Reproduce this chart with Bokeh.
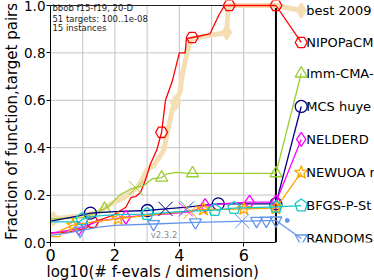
import numpy as np
from bokeh.plotting import figure
from bokeh.models import FixedTicker, PrintfTickFormatter, Range1d, Title
from bokeh.core.properties import value
from bokeh.embed import file_html
from bokeh.resources import INLINE

# ---------------- data ----------------
names = ["best 2009", "NIPOPaCM", "Imm-CMA-", "MCS huye", "NELDERD",
         "NEWUOA r", "BFGS-P-St", "RANDOMS"]
colors = ["#F5DEB3", "#FF0000", "#9ACD32", "#000080", "#FF00FF",
          "#FFA500", "#10C8C8", "#6495ED"]
markers = ["diamond", "hex", "triangle", "circle", "diamond",
           "star", "pentagon", "inverted_triangle"]
legend_y = [0.979, 0.844, 0.713, 0.574, 0.435, 0.295, 0.156, 0.017]

best_x = [-1.3, -0.4, 0.1, 1.0, 1.5, 1.88, 2.29, 2.65, 2.80, 3.01, 3.21, 3.52, 3.67,
          3.78, 3.88, 4.03, 4.08, 4.24, 4.34, 4.39, 4.9, 5.21, 5.47, 5.52, 7.0]
best_y = [0.085, 0.095, 0.10, 0.114, 0.128, 0.163, 0.19, 0.227, 0.254, 0.31, 0.325, 0.39,
          0.49, 0.56, 0.59, 0.64, 0.70, 0.80, 0.85, 0.86, 0.873, 0.88, 0.887, 1.0, 1.0]
best_mx = [0.09, 3.88, 5.47]
best_my = [0.10, 0.59, 0.887]

red_x = [-1.3, -0.5, 0.0, 0.6, 1.1, 1.3, 1.63, 1.94, 2.34, 2.5, 2.65, 2.8, 2.96, 3.1,
         3.3, 3.45, 3.57, 3.78, 4.0, 4.18, 4.22, 4.4, 4.95, 5.23, 5.4, 7.0]
red_y = [0.025, 0.03, 0.04, 0.045, 0.06, 0.085, 0.10, 0.115, 0.149, 0.19, 0.194, 0.212,
         0.269, 0.33, 0.39, 0.465, 0.60, 0.68, 0.80, 0.80, 0.86, 0.865, 0.88, 0.96, 1.0, 1.0]
red_mx = [1.30, 3.45, 4.40, 5.55, 7.0]
red_my = [0.086, 0.465, 0.865, 1.0, 1.0]

green_x = [-1.3, -0.5, 0.0, 1.0, 1.4, 1.68, 1.9, 2.15, 2.5, 2.9, 3.16, 3.45, 3.62, 3.93, 4.3, 7.0]
green_y = [0.09, 0.095, 0.10, 0.105, 0.125, 0.142, 0.165, 0.20, 0.227, 0.24, 0.269, 0.274,
           0.29, 0.296, 0.292, 0.292]
green_mx = [1.68, 3.45, 4.41, 7.0]
green_my = [0.142, 0.274, 0.292, 0.292]

navy_x = [-1.3, 0.0, 0.8, 1.24, 2.0, 3.01, 3.57, 4.24, 4.8, 5.21, 7.0]
navy_y = [0.085, 0.09, 0.11, 0.124, 0.13, 0.135, 0.142, 0.149, 0.158, 0.163, 0.163]
navy_mx = [1.24, 3.01, 5.21, 7.0]
navy_my = [0.124, 0.135, 0.163, 0.163]

mag_x = [-1.3, 0.0, 0.5, 0.88, 1.5, 2.34, 3.0, 3.6, 4.39, 4.8, 5.5, 6.18, 7.0]
mag_y = [0.035, 0.04, 0.05, 0.06, 0.09, 0.107, 0.115, 0.12, 0.13, 0.156, 0.165, 0.17, 0.17]
mag_mx = [0.88, 2.34, 4.8, 6.18, 7.0]
mag_my = [0.06, 0.107, 0.156, 0.17, 0.17]

ora_x = [-1.3, 0.3, 0.3, 0.7, 1.0, 1.5, 2.1, 3.0, 4.0, 4.75, 5.5, 6.0, 7.0]
ora_y = [0.025, 0.025, 0.05, 0.073, 0.08, 0.09, 0.10, 0.115, 0.128, 0.14, 0.14, 0.142, 0.145]
ora_mx = [0.7, 2.1, 4.75, 6.0, 7.0]
ora_my = [0.073, 0.10, 0.14, 0.142, 0.145]

cya_x = [-1.32, -1.32, 0.9, 0.98, 1.3, 2.0, 3.0, 4.0, 5.1, 5.7, 6.5, 7.0]
cya_y = [0.0, 0.087, 0.087, 0.098, 0.11, 0.118, 0.12, 0.13, 0.137, 0.145, 0.148, 0.15]
cya_mx = [0.98, 3.0, 5.1, 5.7, 7.0]
cya_my = [0.098, 0.12, 0.137, 0.145, 0.15]

lbl_x = [-1.3, 0.0, 0.5, 0.92, 1.5, 2.0, 3.2, 4.5, 5.5, 6.4, 7.0]
lbl_y = [0.02, 0.03, 0.04, 0.05, 0.065, 0.072, 0.078, 0.085, 0.088, 0.091, 0.093]
lbl_mx = [0.92, 3.2, 4.5, 6.4, 6.7, 7.0]
lbl_my = [0.05, 0.078, 0.085, 0.091, 0.092, 0.093]

# median budget crosses
cross_x = [2.65, 3.57, 4.2, 4.25, 4.35, 5.95]
cross_y = [0.23, 0.142, 0.14, 0.145, 0.13, 0.09]
cross_c = ["#9ACD32", "#000080", "#FF00FF", "#10C8C8", "#FFA500", "#6495ED"]
dot_x = [7.35]
dot_y = [0.093]

x_ticks = [0, 2, 4, 6]
x_grid = [1, 2, 3, 4, 5, 6]
y_ticks = [0.0, 0.2, 0.4, 0.6, 0.8, 1.0]
y_grid = [0.2, 0.4, 0.6, 0.8]
x_max = 7.0
legend_mx = 7.785
legend_tx = 7.94
info_lines = ["bbob f15-f19, 20-D", "51 targets: 100..1e-08", "15 instances"]
version = "v2.3.2"
x_title = "log10(# f-evals / dimension)"
y_title = "Fraction of function,target pairs"

curves = [(best_x, best_y, best_mx, best_my), (red_x, red_y, red_mx, red_my),
          (green_x, green_y, green_mx, green_my), (navy_x, navy_y, navy_mx, navy_my),
          (mag_x, mag_y, mag_mx, mag_my), (ora_x, ora_y, ora_mx, ora_my),
          (cya_x, cya_y, cya_mx, cya_my), (lbl_x, lbl_y, lbl_mx, lbl_my)]

FONT = "DejaVu Sans"

p = figure(width=374, height=280, x_range=Range1d(0, 10.06), y_range=Range1d(0, 1.0211),
           output_backend="svg", toolbar_location=None,
           min_border_left=47, min_border_right=0, min_border_top=0, min_border_bottom=38)
p.outline_line_color = None
p.xgrid.visible = False
p.ygrid.visible = False

xa = p.xaxis[0]
ya = p.yaxis[0]
xa.bounds = (0, x_max)
ya.bounds = (0, 1)
xa.ticker = FixedTicker(ticks=x_ticks)
ya.ticker = FixedTicker(ticks=y_ticks)
ya.formatter = PrintfTickFormatter(format="%.1f")
for ax, fs in ((xa, "16px"), (ya, "13.5px")):
    ax.axis_line_color = "black"
    ax.axis_line_width = 1
    ax.major_tick_line_color = "black"
    ax.major_tick_out = 4
    ax.major_tick_in = 0
    ax.minor_tick_line_color = None
    ax.major_label_text_font = FONT
    ax.major_label_text_font_size = fs
    ax.major_label_text_color = "black"
    ax.axis_label_text_font = FONT
    ax.axis_label_text_font_size = "15px"
    ax.axis_label_text_font_style = "normal"
    ax.axis_label_text_color = "black"
xa.major_label_standoff = 2
ya.major_label_standoff = 1
ya.axis_label = y_title
ya.axis_label_standoff = 0

# x-axis title placed under the plotted 0..7 span, as in the reference
p.add_layout(Title(text=x_title, align="left", offset=-4, standoff=-5,
                   text_font=FONT, text_font_size="15px", text_font_style="normal",
                   text_color="black"), "below")

# grid
p.segment(x0=x_grid, y0=[0] * len(x_grid), x1=x_grid, y1=[1] * len(x_grid),
          line_color="#c4c4c4", line_width=1)
p.segment(x0=[0] * len(y_grid), y0=y_grid, x1=[x_max] * len(y_grid), y1=y_grid,
          line_color="#c4c4c4", line_width=1)
# top spine and max-budget line
p.segment(x0=[0], y0=[1], x1=[x_max], y1=[1], line_color="#222222", line_width=1)
p.segment(x0=[x_max], y0=[0], x1=[x_max], y1=[1], line_color="black", line_width=2)

# text info
p.text(x=[0.06] * 3, y=[1.0] * 3, text=info_lines, y_offset=[2.5, 13, 22],
       text_font=value(FONT), text_font_size="8.5px", text_color="#222222",
       text_baseline="middle", text_align="left")
p.text(x=[3.11], y=[0.03], text=[version], text_font=value(FONT), text_font_size="8.5px",
       text_color="#8c8c8c", text_baseline="middle", text_align="left")


def draw_markers(kind, xs, ys, color, fill, size, lw):
    fc = color if fill else None
    if kind == "pentagon":
        try:
            p.ngon(x=xs, y=ys, radius=6.5, radius_units="screen", n=5, angle=0,
                   fill_color=fc, line_color=color, line_width=lw)
            return
        except Exception:
            kind = "hex"
    p.scatter(x=xs, y=ys, marker=kind, size=size, fill_color=fc, line_color=color,
              line_width=lw)


for i, (cx, cy, mx, my) in enumerate(curves):
    col = colors[i]
    is_best = i == 0
    lw = 5 if is_best else 1.3
    p.line(cx, cy, line_color=col, line_width=lw)
    # connector to legend
    p.line([cx[-1], legend_mx], [cy[-1], legend_y[i]], line_color=col, line_width=lw)
    size = 15 if is_best else (14 if markers[i] in ("diamond", "star") else 12)
    draw_markers(markers[i], mx + [legend_mx], my + [legend_y[i]], col, is_best, size,
                 1.3)

p.scatter(x=cross_x, y=cross_y, marker="x", size=20, line_color=cross_c, line_width=1)
p.scatter(x=dot_x, y=dot_y, marker="circle", size=4, fill_color="#6495ED",
          line_color="#6495ED")

p.text(x=[legend_tx] * len(names), y=legend_y, text=names, text_font=value(FONT),
       text_font_size="13px", text_color="black", text_baseline="middle",
       text_align="left")

open("out.html", "w").write(file_html(p, INLINE))
